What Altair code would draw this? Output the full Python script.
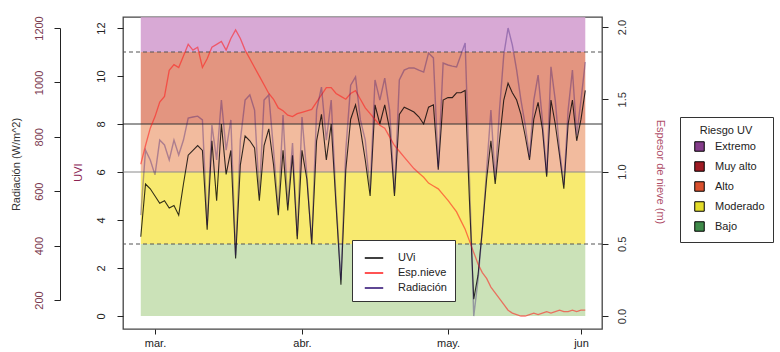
import altair as alt
import pandas as pd

# ---------------- data ----------------
start_date = "2013-02-26"

uvi = [3.3, 5.5, 5.3, 5.0, 4.7, 4.8, 4.5, 4.6, 4.2, 5.5,
       6.7, 6.9, 7.1, 6.9, 3.6, 7.3, 4.8, 8.0, 5.9, 6.9,
       2.4, 6.3, 7.5, 7.3, 7.0, 4.8, 7.1, 7.8, 6.3, 4.2,
       6.9, 4.4, 6.7, 3.2, 6.9, 5.7, 3.0, 7.3, 8.4, 6.5,
       8.0, 4.6, 1.3, 6.1, 8.2, 8.8, 7.8, 6.5, 5.0, 8.8,
       8.0, 8.8, 7.8, 5.0, 8.4, 8.7, 8.6, 8.5, 8.3, 8.0,
       8.7, 8.8, 6.1, 9.0, 9.1, 9.1, 9.3, 9.3, 9.4, 4.8,
       0.7, 1.7, 3.6, 5.7, 7.3, 5.5, 7.3, 9.0, 9.7, 9.3,
       9.0, 8.4, 7.5, 6.5, 8.2, 8.9, 7.8, 5.8, 9.0, 8.0,
       6.7, 5.3, 8.0, 9.0, 7.3, 8.2, 9.4]

radiacion = [512, 751, 715, 660, 788, 770, 715, 788, 733, 788,
             869, 873, 876, 862, 476, 843, 715, 935, 751, 862,
             365, 788, 935, 954, 898, 586, 935, 954, 751, 531,
             880, 549, 777, 435, 873, 660, 410, 898, 983, 788,
             935, 568, 274, 751, 990, 1020, 862, 788, 604, 1009,
             935, 1016, 898, 593, 1009, 1045, 1053, 1053, 1045, 1038,
             1108, 1090, 689, 1071, 1064, 1060, 1057, 1101, 1145, 649,
             141, 274, 457, 678, 898, 641, 898, 1101, 1200, 1137,
             1045, 935, 843, 726, 935, 1027, 862, 660, 1057, 935,
             751, 623, 898, 1045, 807, 935, 1075]

espesor = [1.05, 1.18, 1.30, 1.38, 1.48, 1.52, 1.70, 1.74, 1.72, 1.80,
           1.88, 1.84, 1.86, 1.72, 1.78, 1.86, 1.88, 1.90, 1.84, 1.92,
           1.98, 1.92, 1.84, 1.78, 1.72, 1.66, 1.60, 1.54, 1.50, 1.44,
           1.42, 1.39, 1.38, 1.40, 1.41, 1.42, 1.43, 1.48, 1.53, 1.58,
           1.58, 1.54, 1.52, 1.50, 1.54, 1.56, 1.50, 1.44, 1.40, 1.36,
           1.32, 1.30, 1.24, 1.18, 1.14, 1.10, 1.06, 1.02, 0.99, 0.96,
           0.92, 0.90, 0.88, 0.84, 0.80, 0.76, 0.72, 0.66, 0.60, 0.52,
           0.44, 0.36, 0.30, 0.26, 0.20, 0.16, 0.12, 0.08, 0.04, 0.02,
           0.01, 0.00, 0.00, 0.01, 0.02, 0.01, 0.02, 0.03, 0.02, 0.03,
           0.04, 0.03, 0.03, 0.04, 0.03, 0.04, 0.04]

riesgo_cat = ["Extremo", "Muy alto", "Alto", "Moderado", "Bajo"]
riesgo_inf = [11, 8, 6, 3, 0]
riesgo_sup = [12.45, 11, 8, 6, 3]
riesgo_color = ["#843c8a", "#9e1b24", "#d9502e", "#e3dc2a", "#3f8a4a"]
riesgo_banda = ["#d8a9d5", "#e39580", "#f2bb9e", "#f8ea70", "#cbe2b8"]

series = ["UVi", "Esp.nieve", "Radiación"]
series_color = ["#000000", "#ff1a1a", "#2a0a70"]
series_opacity = [0.8, 0.34, 0.68]

lineas_discontinuas = [3, 11]
linea_oscura = [8]
linea_gris = [6]

month_starts = ["2013-03-01", "2013-04-01", "2013-05-01", "2013-06-01"]
month_names = ["mar.", "abr.", "may.", "jun"]

# ---------------- frames ----------------
t0 = pd.Timestamp(start_date)
fechas = pd.date_range(start_date, periods=len(uvi), freq="D")
dia = [(f - t0).days for f in fechas]
df = pd.DataFrame({"dia": dia, "uvi": uvi, "rad": radiacion, "nieve": espesor})
bands = pd.DataFrame({"cat": riesgo_cat, "lo": riesgo_inf, "hi": riesgo_sup,
                      "x0": dia[0], "x1": dia[-1]})

tick_days = [(pd.Timestamp(m) - t0).days for m in month_starts]
label_map = "{" + ",".join(f"'{d}':'{n}'" for d, n in zip(tick_days, month_names)) + "}"

FONT = "Liberation Sans"

xscale = alt.Scale(domain=tick_days, range=[32, 179, 325, 458], nice=False, zero=False)
xaxis = alt.Axis(values=tick_days, labelExpr=label_map + "[datum.value]",
                 title=None, domain=False, grid=False, tickSize=5, tickColor="#222",
                 labelFontSize=11, labelColor="#222", labelPadding=3, labelFlush=False)

yscale_uvi = alt.Scale(domain=[0, 12], range=[299, 11], nice=False, zero=False)
uvi_axis = alt.Axis(values=list(range(0, 13, 2)), orient="left", domain=False, grid=False,
                    tickSize=6, tickColor="#222", labelAngle=270, labelAlign="center",
                    labelBaseline="bottom", labelPadding=11, labelFontSize=11,
                    labelFlush=False, labelColor="#222", title="UVI",
                    titleColor="#8b2252", titleFontSize=11, titleFontWeight="normal",
                    titlePadding=12)

stroke_enc_scale = alt.Scale(domain=series, range=series_color)
opac_scale = alt.Scale(domain=series, range=series_opacity)
line_legend = alt.Legend(orient="none", legendX=229, legendY=223, title=None,
                         strokeColor="#333", fillColor="white", padding=8,
                         labelFontSize=11, labelFont=FONT, labelColor="#222",
                         symbolType="stroke", symbolSize=340, symbolStrokeWidth=1.5,
                         symbolOffset=4, rowPadding=0, labelOffset=14)


def stroke_enc():
    return alt.Stroke("serie:N", scale=stroke_enc_scale, legend=line_legend)


def opac_enc():
    return alt.StrokeOpacity("serie:N", scale=opac_scale, legend=line_legend)


bx = alt.X("x0:Q", scale=xscale, axis=xaxis)

bands_sat = alt.Chart(bands).mark_rect().encode(
    x=bx, x2="x1:Q",
    y=alt.Y("lo:Q", scale=yscale_uvi, axis=uvi_axis), y2="lo:Q",
    fill=alt.Fill("cat:N", scale=alt.Scale(domain=riesgo_cat, range=riesgo_color),
                  legend=alt.Legend(orient="none", legendX=557, legendY=100,
                                    title="Riesgo UV", titleFontSize=11,
                                    titleFontWeight="normal", titleFont=FONT,
                                    titleColor="#222", titleAnchor="middle",
                                    padding=8, labelFontSize=11, labelFont=FONT,
                                    labelColor="#222", symbolType="square",
                                    symbolSize=90, symbolStrokeColor="black",
                                    symbolStrokeWidth=1, symbolOpacity=1,
                                    rowPadding=5, labelOffset=10, symbolOffset=6,
                                    strokeColor="#333", fillColor="white")),
)

bands_light = alt.Chart(bands).mark_rect().encode(
    x=bx, x2="x1:Q",
    y=alt.Y("lo:Q", scale=yscale_uvi, axis=uvi_axis), y2="hi:Q",
    color=alt.Color("cat:N", scale=alt.Scale(domain=riesgo_cat, range=riesgo_banda),
                    legend=None),
)


def hrule(vals, color, dash, width):
    return alt.Chart(pd.DataFrame({"v": vals})).mark_rule(
        color=color, strokeDash=dash, strokeWidth=width).encode(
        y=alt.Y("v:Q", scale=yscale_uvi, axis=uvi_axis))


rule_d = hrule(lineas_discontinuas, "#555555", [4, 3], 1.2)
rule_8 = hrule(linea_oscura, "#333333", [1, 0], 1.0)
rule_6 = hrule(linea_gris, "#8a8a8a", [1, 0], 1.0)

lx = alt.X("dia:Q", scale=xscale, axis=xaxis)

uvi_line = alt.Chart(df).transform_calculate(serie="'UVi'").mark_line(
    strokeWidth=1.1).encode(
    x=lx, y=alt.Y("uvi:Q", scale=yscale_uvi, axis=uvi_axis),
    stroke=stroke_enc(), strokeOpacity=opac_enc())

uvi_group = alt.layer(bands_sat, bands_light, rule_d, rule_8, rule_6, uvi_line)

snow_line = alt.Chart(df).transform_calculate(serie="'Esp.nieve'").mark_line(
    strokeWidth=1.3).encode(
    x=lx,
    y=alt.Y("nieve:Q",
            scale=alt.Scale(domain=[0, 2], range=[299, 10], nice=False, zero=False),
            axis=alt.Axis(values=[0, 0.5, 1, 1.5, 2], format=".1f", orient="right",
                          domain=False, grid=False, tickSize=6, tickColor="#222",
                          labelAngle=270, labelAlign="center", labelBaseline="top",
                          labelPadding=8, labelFontSize=11, labelColor="#333",
                          labelFlush=False,
                          title="Espesor de nieve (m)", titleColor="#b0506a",
                          titleFontSize=11, titleFontWeight="normal",
                          titlePadding=27)),
    stroke=stroke_enc(), strokeOpacity=opac_enc())

rad_line = alt.Chart(df).transform_calculate(serie="'Radiación'").mark_line(
    strokeWidth=1.4).encode(
    x=lx,
    y=alt.Y("rad:Q",
            scale=alt.Scale(domain=[200, 1200], range=[283, 11], nice=False, zero=False),
            axis=alt.Axis(values=list(range(200, 1201, 200)), format="d", orient="left",
                          offset=63, domain=True, domainColor="#222", grid=False,
                          tickSize=6, tickColor="#222", labelAngle=270,
                          labelAlign="center", labelBaseline="bottom", labelPadding=10,
                          labelFontSize=11, labelColor="#7a3a50", labelFlush=False,
                          title="Radiación (W/m^2)", titleColor="#333",
                          titleFontSize=11, titleFontWeight="normal",
                          titlePadding=12)),
    stroke=stroke_enc(), strokeOpacity=opac_enc())

chart = alt.layer(uvi_group, snow_line, rad_line).resolve_scale(
    y="independent"
).properties(
    width=479, height=312,
    autosize=alt.AutoSizeParams(type="none"),
    padding={"left": 123, "top": 17, "right": 178, "bottom": 23},
    background="white",
).configure(font=FONT).configure_view(stroke="#444", strokeWidth=1.3)

chart.save("out.html", embed_options={"renderer": "svg", "actions": False})
